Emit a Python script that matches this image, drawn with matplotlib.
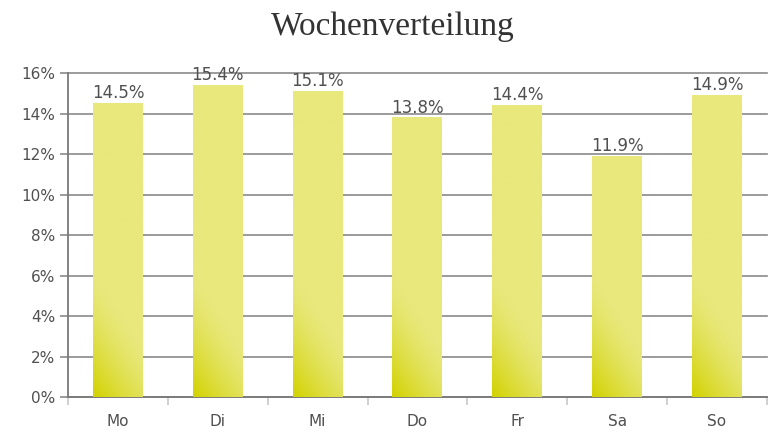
import numpy as np
import matplotlib
matplotlib.use('Agg')
import matplotlib.pyplot as plt
from matplotlib.colors import to_rgb

days = ['Mo', 'Di', 'Mi', 'Do', 'Fr', 'Sa', 'So']
shares = [14.5, 15.4, 15.1, 13.8, 14.4, 11.9, 14.9]
y_ticks = [0, 2, 4, 6, 8, 10, 12, 14, 16]

TOP_COL = np.array(to_rgb('#E8E87C'))
DARK_COL = np.array(to_rgb('#D2D200'))
GRID = '#8A8A8A'
TEXT = '#505050'

fig = plt.figure(figsize=(7.77, 4.43), dpi=100)
ax = fig.add_axes([0.0875, 0.1038, 0.8995, 0.7312])

BAR_W = 0.5
for i, h in enumerate(shares):
    x0, x1 = i - BAR_W / 2, i + BAR_W / 2
    ny, nx = 200, 40
    u = np.linspace(0, 1, nx)[None, :]
    v = np.linspace(h, 0, ny)[:, None]
    # diagonal shading, strongest bottom-left
    s = np.clip(1 - (v / 6.0 + u * 0.6), 0, 1) ** 1.4
    img = TOP_COL + s[..., None] * (DARK_COL - TOP_COL)
    ax.imshow(img, extent=(x0, x1, 0, h), aspect='auto', zorder=3,
              interpolation='bilinear')
    ax.text(i, h + 0.05, f'{h:.1f}%', ha='center', va='bottom', fontsize=12,
            color=TEXT, zorder=4)

ax.set_xlim(-0.5, 6.5)
ax.set_ylim(0, 16)

ax.set_yticks(y_ticks)
ax.set_yticklabels([f'{t}%' for t in y_ticks])
ax.set_xticks(range(len(days)))
ax.set_xticklabels(days)
ax.set_xticks(np.arange(-0.5, 7, 1), minor=True)

ax.tick_params(axis='x', which='major', length=0, pad=12, labelsize=11,
               labelcolor=TEXT)
ax.tick_params(axis='x', which='minor', length=6, width=1.2, color='#C8C8C8')
ax.tick_params(axis='y', length=6, width=1.2, color=GRID, labelsize=11,
               labelcolor=TEXT, pad=3)

ax.grid(True, axis='y', color=GRID, linewidth=1.2, zorder=1)
for line in ax.get_ygridlines():
    line.set_clip_on(False)
ax.set_axisbelow(True)
for side in ('top', 'right'):
    ax.spines[side].set_visible(False)
for side in ('left', 'bottom'):
    ax.spines[side].set_color('#7A7A7A')
    ax.spines[side].set_linewidth(1.3)

fig.text(0.505, 0.94, 'Wochenverteilung', ha='center', va='center',
         fontsize=24, family='Liberation Serif', color='#333333')

fig.savefig('out.png', dpi=100)
